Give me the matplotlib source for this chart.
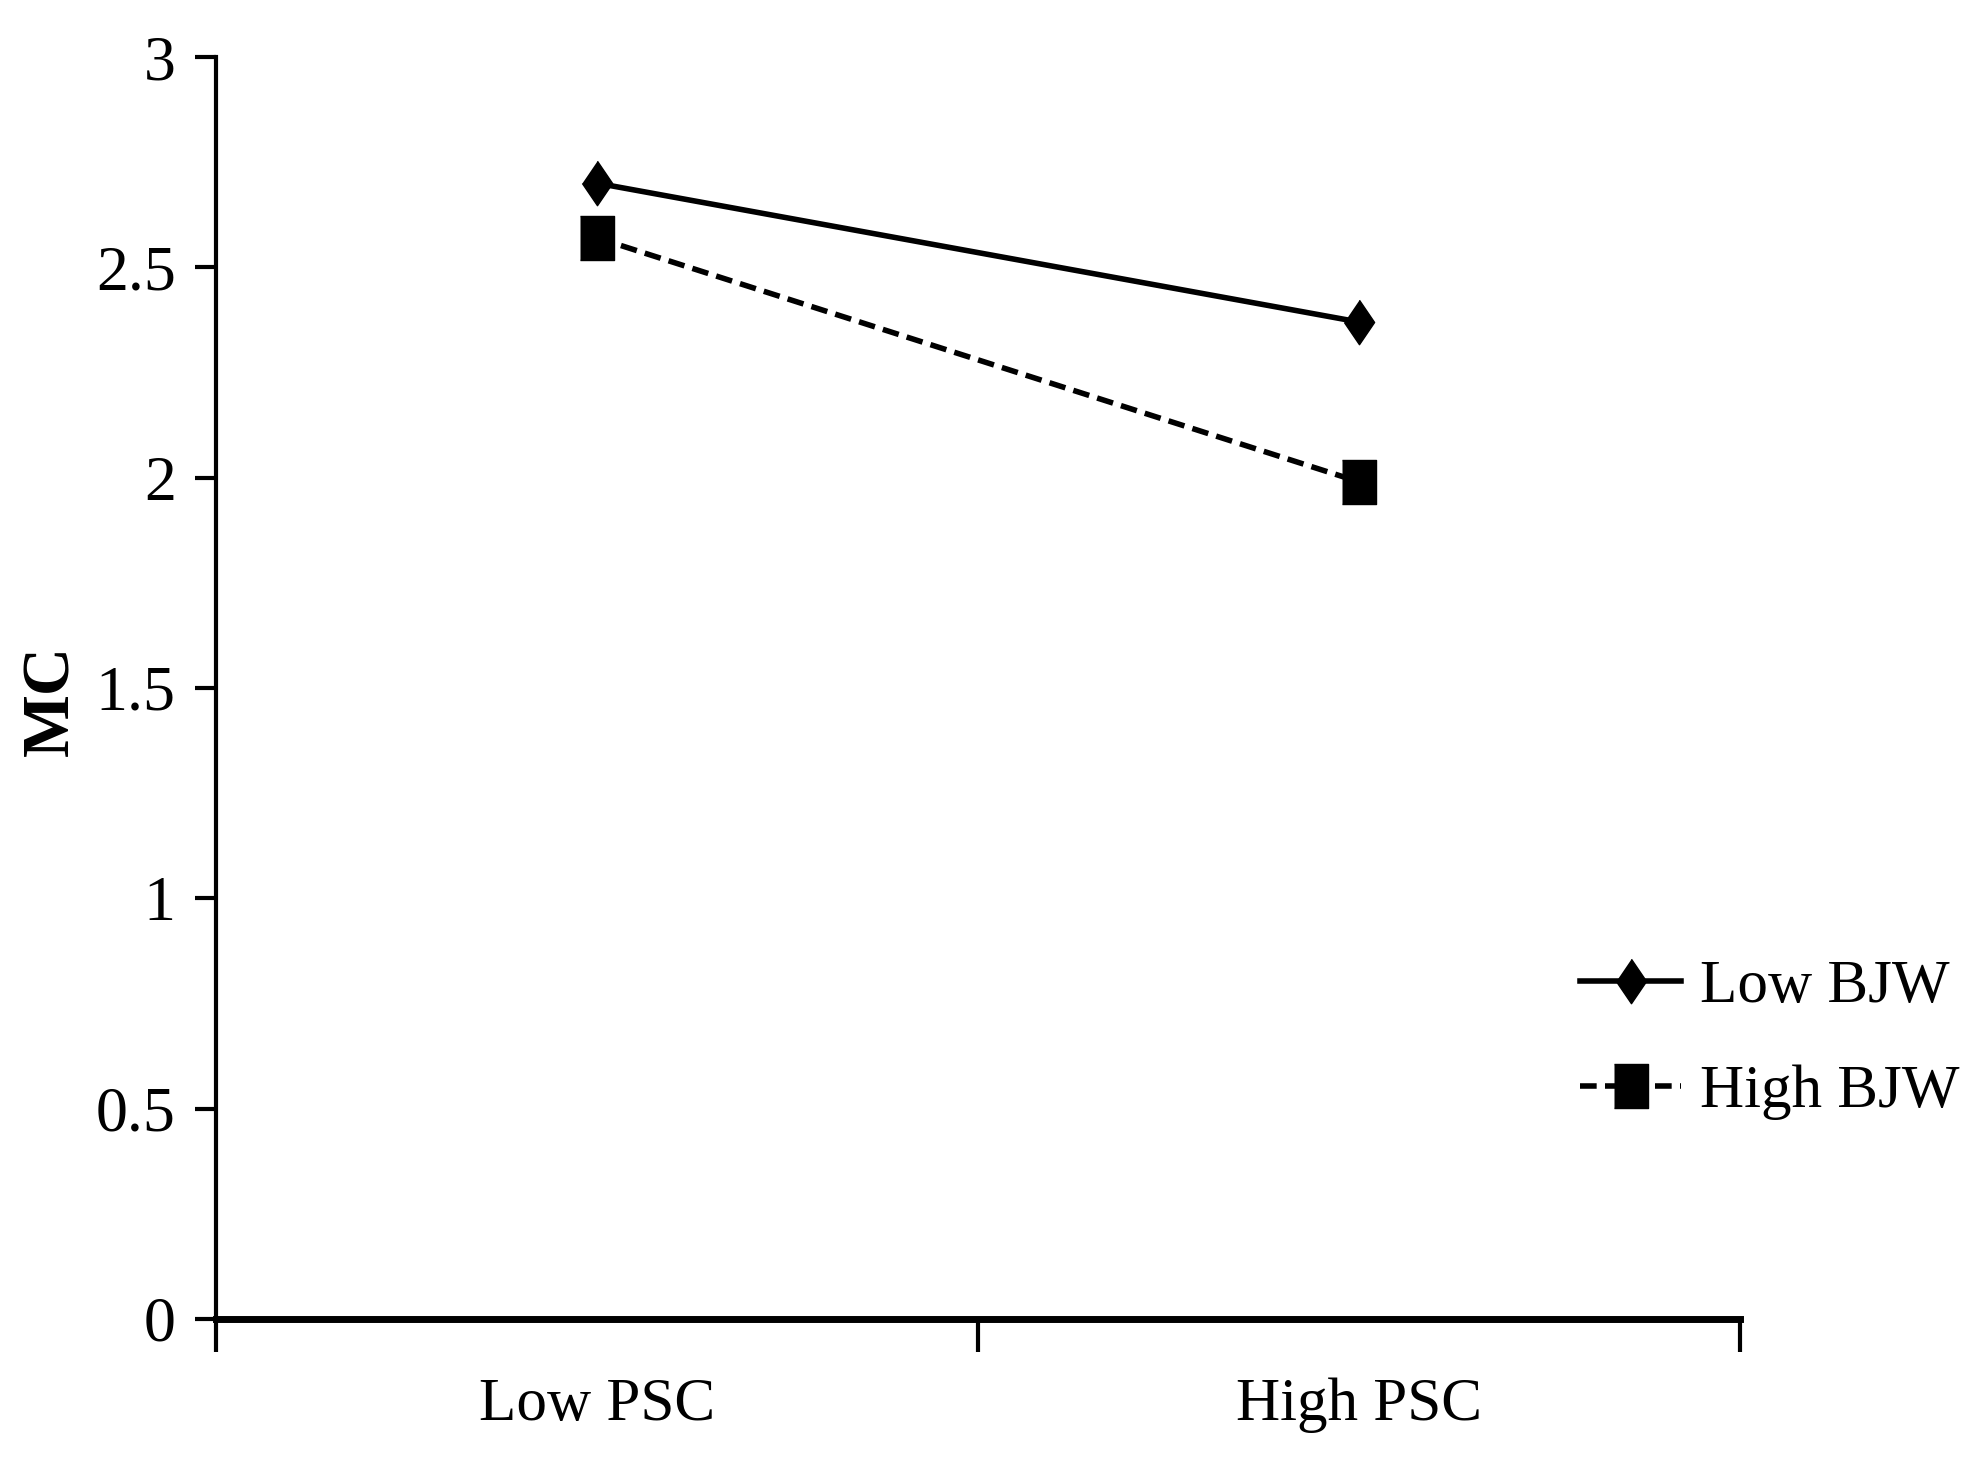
import matplotlib
matplotlib.use("Agg")
import matplotlib.pyplot as plt

# datos
categorias = ["Low PSC", "High PSC"]
posiciones = [0.5, 1.5]
low_bjw = [2.70, 2.37]
high_bjw = [2.57, 1.99]
y_ticks = [0, 0.5, 1, 1.5, 2, 2.5, 3]
y_labels = ["0", "0.5", "1", "1.5", "2", "2.5", "3"]

plt.rcParams["font.family"] = ["Liberation Serif", "DejaVu Serif"]

diamante = [(0, 1), (0.68, 0), (0, -1), (-0.68, 0)]  # rombo estrecho
cuadrado = [(-0.75, -1), (0.75, -1), (0.75, 1), (-0.75, 1)]

fig = plt.figure(figsize=(19.83, 14.77), dpi=100)
ax = fig.add_axes([0.109, 0.107, 0.7685, 0.8544])

ax.plot(posiciones, low_bjw, color="black", lw=4, marker=diamante,
        ms=32, mfc="black", mec="black", label="Low BJW")
ax.plot(posiciones, high_bjw, color="black", lw=4, dashes=(3.0, 1.5),
        marker=cuadrado, ms=32, mfc="black", mec="black", label="High BJW")

ax.set_xlim(0, 2)
ax.set_ylim(0, 3)

# ejes sin marco superior ni derecho
ax.spines["top"].set_visible(False)
ax.spines["right"].set_visible(False)
ax.spines["left"].set_linewidth(3)
ax.spines["bottom"].set_linewidth(5)

ax.set_yticks(y_ticks)
ax.set_yticklabels(y_labels)
ax.tick_params(axis="y", direction="out", length=15, width=3, pad=14, labelsize=46)

ax.set_xticks([0, 1, 2])
ax.set_xticklabels(["", "", ""])
ax.set_xticks(posiciones, minor=True)
ax.set_xticklabels(categorias, minor=True)
ax.tick_params(axis="x", which="major", direction="out", length=24, width=3)
ax.tick_params(axis="x", which="minor", length=0, pad=42, labelsize=44)

ax.set_ylabel("MC", fontsize=48, fontweight="bold")
ax.yaxis.set_label_coords(-0.088, 0.49)

ax.legend(loc="center left", bbox_to_anchor=(0.797, 0.296),
          bbox_transform=fig.transFigure, frameon=False, fontsize=44,
          handlelength=1.65, handletextpad=0.3, labelspacing=0.8,
          borderpad=0, borderaxespad=0)

fig.savefig("out.png", dpi=100, facecolor="white")
